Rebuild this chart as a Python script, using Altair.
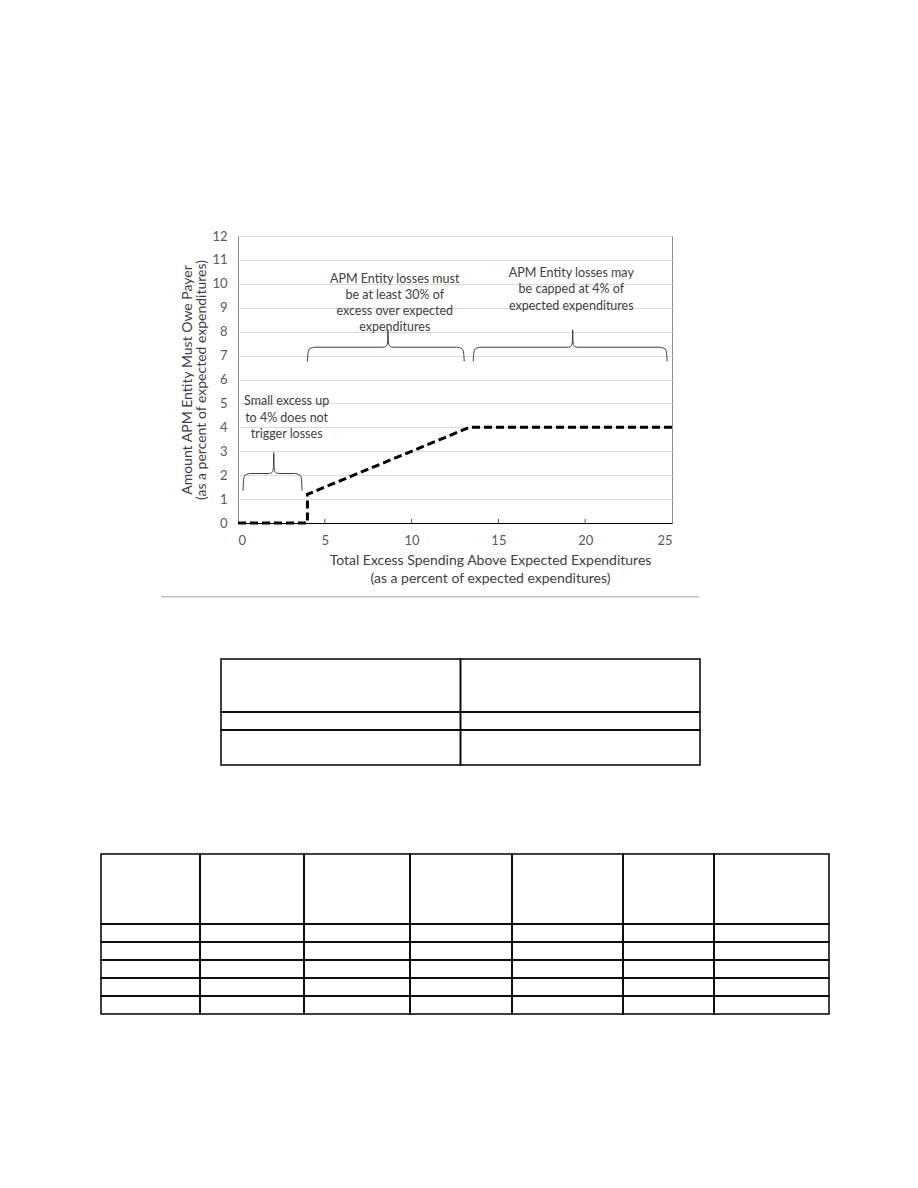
import altair as alt
import pandas as pd

# ---------------- main chart data ----------------
excess = [0, 4, 4, 13.33, 25]          # total excess spending (% of expected)
owed = [0, 0, 1.2, 4, 4]               # amount owed (% of expected)

x_ticks = [0, 5, 10, 15, 20, 25]
y_ticks = list(range(0, 13))
inner_ticks = [5, 10, 15, 20]

# curly braces (data units)
brace_left = [0.29, 4.0, 13.55]
brace_right = [3.69, 13.03, 24.72]
brace_tip_x = [2.06, 8.64, 19.28]
brace_base = [1.35, 6.76, 6.76]
brace_mid = [2.07, 7.35, 7.35]
brace_top = [2.94, 8.08, 8.08]

note_lines = [
    "Small excess up", "to 4% does not", "trigger losses",
    "APM Entity losses must", "be at least 30% of", "excess over expected", "expenditures",
    "APM Entity losses may", "be capped at 4% of", "expected expenditures",
]
note_x = [2.8, 2.8, 2.8, 9.03, 9.03, 9.03, 9.03, 19.2, 19.2, 19.2]
note_y = [5.10, 4.41, 3.72, 10.2, 9.53, 8.86, 8.19, 10.45, 9.77, 9.09]

# empty tables below the figure (relative column widths, row heights in text lines)
t1_col_w = [1, 1]
t1_row_h = [2.95, 1, 1.95]
t2_col_w = [99, 104, 106, 102, 111, 91, 115]
t2_row_h = [3.9, 1, 1, 1, 1, 1]

FONT = "Lato"

# ---------------- build frames ----------------
line_df = pd.DataFrame({"x": excess, "y": owed})

brace_rows = []
for b in range(len(brace_left)):
    x0, x1, xt = brace_left[b], brace_right[b], brace_tip_x[b]
    yb, yh, yt = brace_base[b], brace_mid[b], brace_top[b]
    pts = [
        (x0, yb), (x0 + 0.03, yh - 0.25), (x0 + 0.12, yh - 0.07), (x0 + 0.45, yh),
        (xt - 0.25, yh), (xt - 0.07, yh + 0.07), (xt - 0.02, yh + 0.25), (xt, yt),
        (xt + 0.02, yh + 0.25), (xt + 0.07, yh + 0.07), (xt + 0.25, yh),
        (x1 - 0.45, yh), (x1 - 0.12, yh - 0.07), (x1 - 0.03, yh - 0.25), (x1, yb),
    ]
    for i, (px, py) in enumerate(pts):
        brace_rows.append({"brace": b, "i": i, "x": px, "y": py})
brace_df = pd.DataFrame(brace_rows)

notes_df = pd.DataFrame({"t": note_lines, "x": note_x, "y": note_y})
ticks_df = pd.DataFrame({"x": inner_ticks, "y": [0] * 4, "y2": [0.17] * 4})

xscale = alt.Scale(domain=[0, 25], nice=False, zero=False)
yscale = alt.Scale(domain=[0, 12], nice=False, zero=False)

xaxis = alt.Axis(
    values=x_ticks, grid=False, ticks=False, domainColor="#000000", domainWidth=1,
    labelColor="#595959", labelFont=FONT, labelFontSize=13, labelPadding=11,
    title=["Total Excess Spending Above Expected Expenditures",
           "(as a percent of expected expenditures)"],
    titleFont=FONT, titleFontSize=14, titleFontWeight="normal", titleColor="#404040",
    titleLineHeight=18, titlePadding=6, titleX=252, titleAlign="center",
)
yaxis = alt.Axis(
    values=y_ticks, grid=True, gridColor="#d9d9d9", gridWidth=1, ticks=False, domain=False,
    labelColor="#595959", labelFont=FONT, labelFontSize=13, labelPadding=11,
    labelOverlap=False,
    title=["Amount APM Entity Must Owe Payer", "(as a percent of expected expenditures)"],
    titleFont=FONT, titleFontSize=14, titleFontWeight="normal", titleColor="#404040",
    titleLineHeight=14.5, titlePadding=3,
)

X = alt.X("x:Q", scale=xscale, axis=xaxis)
Y = alt.Y("y:Q", scale=yscale, axis=yaxis)

inner = alt.Chart(ticks_df).mark_rule(color="#595959", strokeWidth=1).encode(
    x=X, y=Y, y2="y2:Q",
)

base_line = alt.Chart(line_df).mark_line(
    color="#000000", strokeWidth=3, strokeDash=[8, 4]
).encode(x=X, y=Y)

braces = alt.Chart(brace_df).mark_line(
    color="#3a3a3a", strokeWidth=1, interpolate="monotone"
).encode(
    x=X, y=Y,
    detail="brace:N",
    order="i:Q",
)

notes = alt.Chart(notes_df).mark_text(
    font=FONT, fontSize=12.5, color="#404040", align="center", baseline="middle"
).encode(x=X, y=Y, text="t:N")

main = alt.layer(inner, base_line, braces, notes).properties(
    width=434, height=287,
    view=alt.ViewBackground(stroke="#8a8a8a", strokeWidth=1),
)


def blank(w, h, fill="#ffffff"):
    return alt.Chart(pd.DataFrame({"v": [0]})).mark_point(opacity=0).properties(
        width=w, height=h, view=alt.ViewBackground(fill=fill)
    )


def table(col_w, row_h, w, h):
    rows = []
    xe = [0]
    for c in col_w:
        xe.append(xe[-1] + c)
    ye = [0]
    for r in row_h:
        ye.append(ye[-1] + r)
    for i in range(len(row_h)):
        for j in range(len(col_w)):
            rows.append({"x": xe[j], "x2": xe[j + 1], "y": ye[i], "y2": ye[i + 1]})
    df = pd.DataFrame(rows)
    return alt.Chart(df).mark_rect(
        fillOpacity=0, stroke="#000000", strokeWidth=1.5
    ).encode(
        x=alt.X("x:Q", scale=alt.Scale(domain=[0, xe[-1]], nice=False, zero=False), axis=None),
        x2="x2:Q",
        y=alt.Y("y:Q", scale=alt.Scale(domain=[0, ye[-1]], nice=False, zero=False, reverse=True), axis=None),
        y2="y2:Q",
    ).properties(width=w, height=h)


row1 = alt.hconcat(blank(78, 358), main, spacing=0)
row2 = alt.hconcat(blank(60, 62), blank(538, 1.5, fill="#bfbfbf"), spacing=0)
row3 = alt.hconcat(blank(119, 194), table(t1_col_w, t1_row_h, 479, 106), spacing=0)
row4 = table(t2_col_w, t2_row_h, 728, 160)

chart = alt.vconcat(row1, row2, row3, row4, spacing=0).properties(
    padding={"left": 100, "top": 229, "right": 85, "bottom": 160}
).configure_view(stroke=None).configure_concat(spacing=0)

chart.save("out.html", embed_options={"renderer": "svg", "actions": False})
